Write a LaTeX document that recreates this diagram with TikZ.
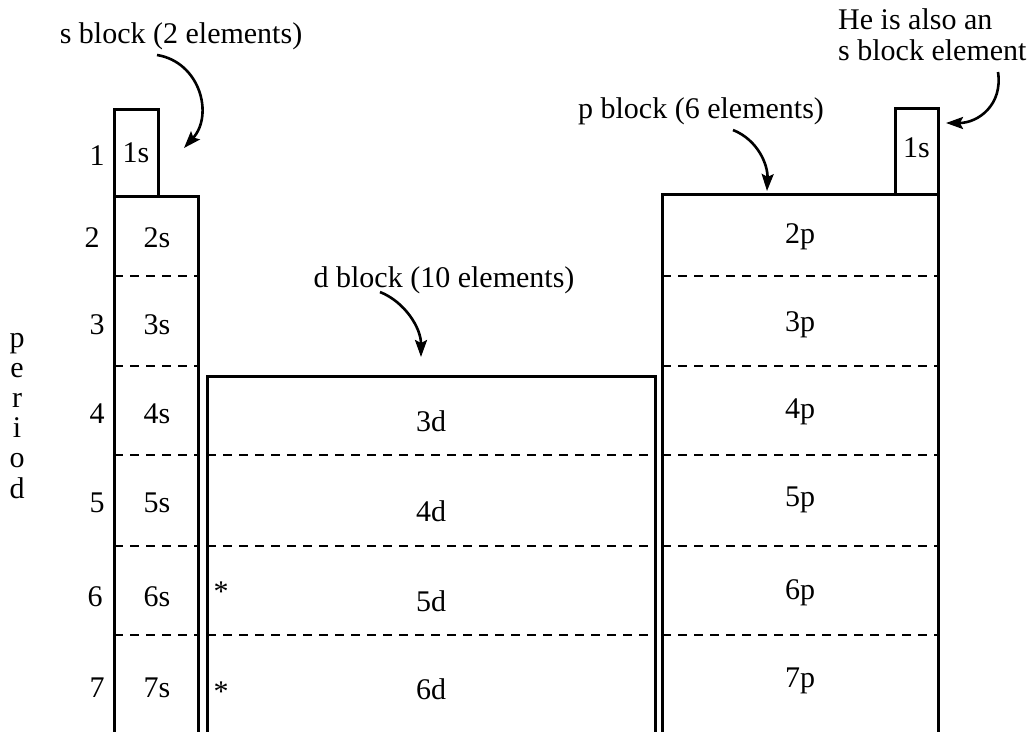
\documentclass[tikz,border=0pt]{standalone}
\usepackage{fontspec}
\setmainfont{Liberation Serif}
\usetikzlibrary{arrows.meta}
\begin{document}
\begin{tikzpicture}[x=1pt,y=-1pt,
  blockline/.style={line width=3pt, line join=miter},
  sep/.style={line width=2.2pt, dash pattern=on 9pt off 7pt},
  lbl/.style={font=\fontsize{30}{36}\selectfont, inner sep=0pt, anchor=base},
  callout/.style={line width=2.6pt, -{Stealth[length=17pt,width=12pt,inset=3pt]}},
]
\useasboundingbox (0,0) rectangle (1030,731);

% block outlines (open at the bottom)
\draw[blockline] (114,733) -- (114,196) -- (198,196) -- (198,733);
\draw[blockline] (114,196) -- (114,109) -- (158,109) -- (158,196);
\draw[blockline] (207,733) -- (207,376) -- (655,376) -- (655,733);
\draw[blockline] (662,733) -- (662,194) -- (938,194) -- (938,733);
\draw[blockline] (895,194) -- (895,108) -- (938,108) -- (938,194);

% period separators
\foreach \y in {276,366,455,546,635} {
  \draw[sep] (114,\y) -- (198,\y);
  \draw[sep] (662,\y) -- (938,\y);
}
\foreach \y in {455,546,635}
  \draw[sep] (207,\y) -- (655,\y);

% period numbers
\node[lbl] (n1) at (97,165) {1};
\node[lbl] (n2) at (92,247) {2};
\node[lbl] (n3) at (97,334) {3};
\node[lbl] (n4) at (97,423) {4};
\node[lbl] (n5) at (97,512) {5};
\node[lbl] (n6) at (95,606) {6};
\node[lbl] (n7) at (97,697) {7};

% vertical axis title
\foreach \ch [count=\i] in {p,e,r,i,o,d}
  \node[lbl] (per\i) at (17,{347+30.2*(\i-1)}) {\ch};

% s block
\node[lbl] (s1) at (136,162) {1s};
\node[lbl] (s2) at (157,247) {2s};
\node[lbl] (s3) at (157,334) {3s};
\node[lbl] (s4) at (157,423) {4s};
\node[lbl] (s5) at (157,512) {5s};
\node[lbl] (s6) at (157,606) {6s};
\node[lbl] (s7) at (157,697) {7s};

% d block
\node[lbl] (d3) at (431,431) {3d};
\node[lbl] (d4) at (431,521) {4d};
\node[lbl] (d5) at (431,611) {5d};
\node[lbl] (d6) at (431,699) {6d};
\node[lbl] (st5) at (221,601) {*};
\node[lbl] (st6) at (221,701) {*};

% p block
\node[lbl] (p2) at (800,243) {2p};
\node[lbl] (p3) at (800,331) {3p};
\node[lbl] (p4) at (800,418) {4p};
\node[lbl] (p5) at (800,506) {5p};
\node[lbl] (p6) at (800,599) {6p};
\node[lbl] (p7) at (800,687) {7p};
\node[lbl] (he1s) at (916.5,157) {1s};

% block captions
\node[lbl] (scap) at (181,43) {s block (2 elements)};
\node[lbl] (dcap) at (444,287) {d block (10 elements)};
\node[lbl] (pcap) at (701,118) {p block (6 elements)};
\node[lbl, anchor=base west] (hecap1) at (838,29) {He is also an};
\node[lbl, anchor=base west] (hecap2) at (838,60) {s block element};

% callout arrows
\coordinate (sA) at (157,55);   \coordinate (sB) at (184,148);
\coordinate (dA) at (380,292);  \coordinate (dB) at (421,357);
\coordinate (pA) at (733,130);  \coordinate (pB) at (767,191);
\coordinate (hA) at (998,72);   \coordinate (hB) at (946,123);
\draw[callout] (sA) .. controls (200,62) and (214,115) .. (sB);
\draw[callout] (dA) .. controls (405,302) and (421,328) .. (dB);
\draw[callout] (pA) .. controls (758,140) and (768,165) .. (pB);
\draw[callout] (hA) .. controls (1003,105) and (978,123) .. (hB);
\end{tikzpicture}
\end{document}
